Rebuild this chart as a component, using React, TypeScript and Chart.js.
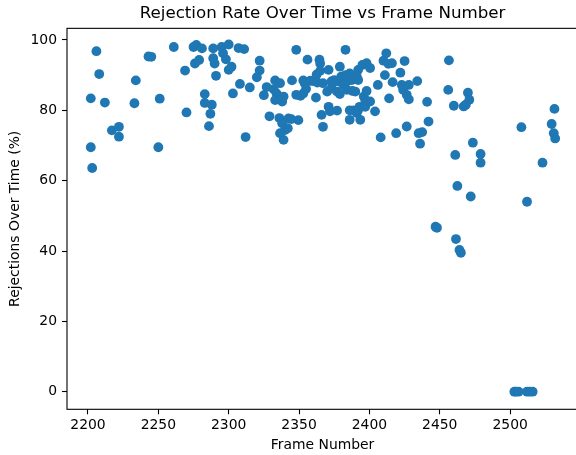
import React, { useEffect, useRef } from "react";
import { Chart, registerables } from "chart.js";

Chart.register(...registerables);

const titleText = "Rejection Rate Over Time vs Frame Number";
const xLabel = "Frame Number";
const yLabel = "Rejections Over Time (%)";
const xTicks = [2200, 2250, 2300, 2350, 2400, 2450, 2500];
const yTicks = [0, 20, 40, 60, 80, 100];

const frameNumber = [
  2202, 2202, 2203, 2206, 2208, 2212, 2217, 2222, 2222, 2233, 2234, 2243, 2245, 2251, 2250, 2261, 2269, 2270,
  2275, 2277, 2281, 2276, 2279, 2283, 2283, 2288, 2287, 2286, 2289, 2289, 2290, 2291, 2295, 2296, 2298, 2300, 2300, 2302, 2303, 2307, 2308, 2311, 2312, 2315, 2322, 2322, 2320,
  2325, 2327, 2329, 2333, 2336.5, 2332, 2334, 2333, 2338, 2339, 2336, 2338, 2340, 2342, 2339, 2336.5, 2342.5, 2344.5, 2349.5, 2345, 2348, 2348, 2351, 2353,
  2353, 2354, 2355, 2356, 2358, 2360, 2362.5, 2363, 2362, 2364.5, 2365, 2365, 2371, 2366, 2367, 2367, 2370, 2371, 2372, 2373, 2373, 2375, 2377, 2377, 2377, 2379, 2380, 2379, 2381.5, 2383, 2383, 2384, 2384, 2386, 2386, 2386, 2387.5, 2388, 2389, 2390, 2391, 2391, 2392, 2392, 2392, 2393, 2393.5, 2395, 2396, 2397, 2397, 2398, 2398, 2398, 2400.5, 2400.5, 2404,
  2406, 2408, 2410, 2411, 2412, 2413.5, 2414, 2416, 2416.5, 2419, 2422, 2423, 2424, 2425, 2426.5, 2426.5, 2428, 2428, 2434, 2435, 2437.5, 2436, 2441, 2442,
  2447, 2448, 2456.5, 2456, 2460, 2461, 2462.5, 2461.5, 2464, 2465, 2467, 2468.5, 2470, 2471, 2472, 2473.5, 2479, 2479,
  2503, 2504, 2506, 2512, 2514, 2516, 2508, 2512, 2523, 2529.5, 2531, 2532, 2531.5,
];

const rejectionRate = [
  83.4, 69.5, 63.6, 96.8, 90.3, 82.2, 74.3, 75.3, 72.5, 82.0, 88.5, 95.3, 95.2, 83.3, 69.5, 98.0, 91.3, 79.4,
  98.0, 98.6, 97.6, 93.3, 94.3, 84.6, 82.1, 81.6, 79.0, 75.5, 97.6, 94.8, 93.3, 89.8, 98.0, 96.2, 94.5, 91.5, 98.7, 92.4, 84.8, 97.7, 87.5, 97.4, 72.4, 86.5, 94.1, 91.3, 89.4,
  84.3, 86.6, 78.3, 88.5, 87.7, 86.0, 84.8, 82.9, 82.5, 83.9, 77.8, 76.3, 74.4, 74.9, 71.6, 73.5, 77.7, 77.5, 77.2, 88.5, 97.2, 84.4, 84.1, 84.8,
  88.5, 87.7, 86.1, 94.4, 88.4, 88.3, 90.2, 87.9, 83.6, 94.4, 93.3, 91.2, 91.5, 78.7, 75.3, 87.7, 85.3, 81.0, 79.7, 88.2, 86.3, 88.6, 85.3, 79.9, 88.2, 92.4, 89.6, 84.6, 87.2, 97.2, 90.0, 88.2, 85.8, 90.5, 80.0, 77.3, 88.6, 85.5, 80.0, 85.3, 89.6, 79.2, 91.5, 88.6, 80.1, 81.0, 77.3, 92.9, 83.9, 82.9, 81.0, 93.4, 85.5, 82.5, 92.0, 82.5, 79.7,
  87.2, 72.3, 94.1, 90.0, 96.2, 93.2, 83.4, 93.4, 88.0, 73.5, 90.7, 87.2, 85.8, 94.0, 84.4, 75.4, 87.2, 83.1, 88.3, 73.5, 73.8, 70.5, 82.4, 76.8,
  46.9, 46.6, 94.2, 85.8, 81.3, 67.3, 58.5, 43.4, 40.3, 39.5, 81.1, 81.6, 85.0, 83.0, 55.5, 70.8, 67.6, 65.1,
  0, 0, 0, 0, 0, 0, 75.2, 54.0, 65.1, 76.1, 73.5, 72.0, 80.4,
];

const FONT = "'DejaVu Sans', sans-serif";

const spinesPlugin = {
  id: "spines",
  afterDraw(chart: any) {
    const { ctx, chartArea } = chart;
    ctx.save();
    ctx.strokeStyle = "#000";
    ctx.lineWidth = 1.1;
    ctx.strokeRect(chartArea.left, chartArea.top, chartArea.right - chartArea.left, chartArea.bottom - chartArea.top);
    ctx.restore();
  },
};

export default function App() {
  const ref = useRef<HTMLCanvasElement>(null);
  useEffect(() => {
    document.body.style.margin = "0";
    const points = frameNumber.map((x, i) => ({ x, y: rejectionRate[i] }));
    const chart = new Chart(ref.current!, {
      type: "scatter",
      data: {
        datasets: [
          {
            data: points,
            backgroundColor: "#1f77b4",
            borderColor: "#1f77b4",
            borderWidth: 0,
            pointRadius: 4.9,
            pointHoverRadius: 4.9,
          },
        ],
      },
      plugins: [spinesPlugin],
      options: {
        animation: false,
        responsive: false,
        devicePixelRatio: 1,
        layout: { padding: { left: 0, right: 0, top: 0, bottom: 0 } },
        plugins: {
          legend: { display: false },
          tooltip: { enabled: false },
          title: {
            display: true,
            text: titleText,
            fullSize: false,
            color: "#000",
            font: { family: FONT, size: 16.7, weight: "normal" },
            padding: { top: 3.5, bottom: 4.8 },
          },
        },
        scales: {
          x: {
            type: "linear",
            min: 2185.1,
            max: 2548.3,
            afterBuildTicks: (scale: any) => {
              scale.ticks = xTicks.map((v) => ({ value: v }));
            },
            afterFit: (scale: any) => {
              scale.height = 45.7;
            },
            ticks: {
              color: "#000",
              font: { family: FONT, size: 13.9 },
              padding: 3,
              maxRotation: 0,
              autoSkip: false,
              callback: (v: any) => String(v),
            },
            grid: {
              drawOnChartArea: false,
              drawTicks: true,
              tickLength: 5,
              tickColor: "#000",
              tickWidth: 1.1,
            },
            border: { display: false },
            title: {
              display: true,
              text: xLabel,
              color: "#000",
              font: { family: FONT, size: 13.9 },
              padding: { top: 0, bottom: 1 },
            },
          },
          y: {
            type: "linear",
            min: -5.0,
            max: 103.3,
            afterBuildTicks: (scale: any) => {
              scale.ticks = yTicks.map((v) => ({ value: v }));
            },
            afterFit: (scale: any) => {
              scale.width = 67;
            },
            ticks: {
              color: "#000",
              font: { family: FONT, size: 13.9 },
              padding: 5,
              autoSkip: false,
              callback: (v: any) => String(v),
            },
            grid: {
              drawOnChartArea: false,
              drawTicks: true,
              tickLength: 5,
              tickColor: "#000",
              tickWidth: 1.1,
            },
            border: { display: false },
            title: {
              display: true,
              text: yLabel,
              color: "#000",
              font: { family: FONT, size: 13.9 },
              padding: { top: 7, bottom: 0 },
            },
          },
        },
      },
    });
    return () => chart.destroy();
  }, []);

  return (
    <div style={{ position: "fixed", left: 0, top: 0, width: 576, height: 455, overflow: "hidden", background: "#fff" }}>
      <canvas ref={ref} width={583} height={455} style={{ display: "block", width: 583, height: 455 }} />
    </div>
  );
}
